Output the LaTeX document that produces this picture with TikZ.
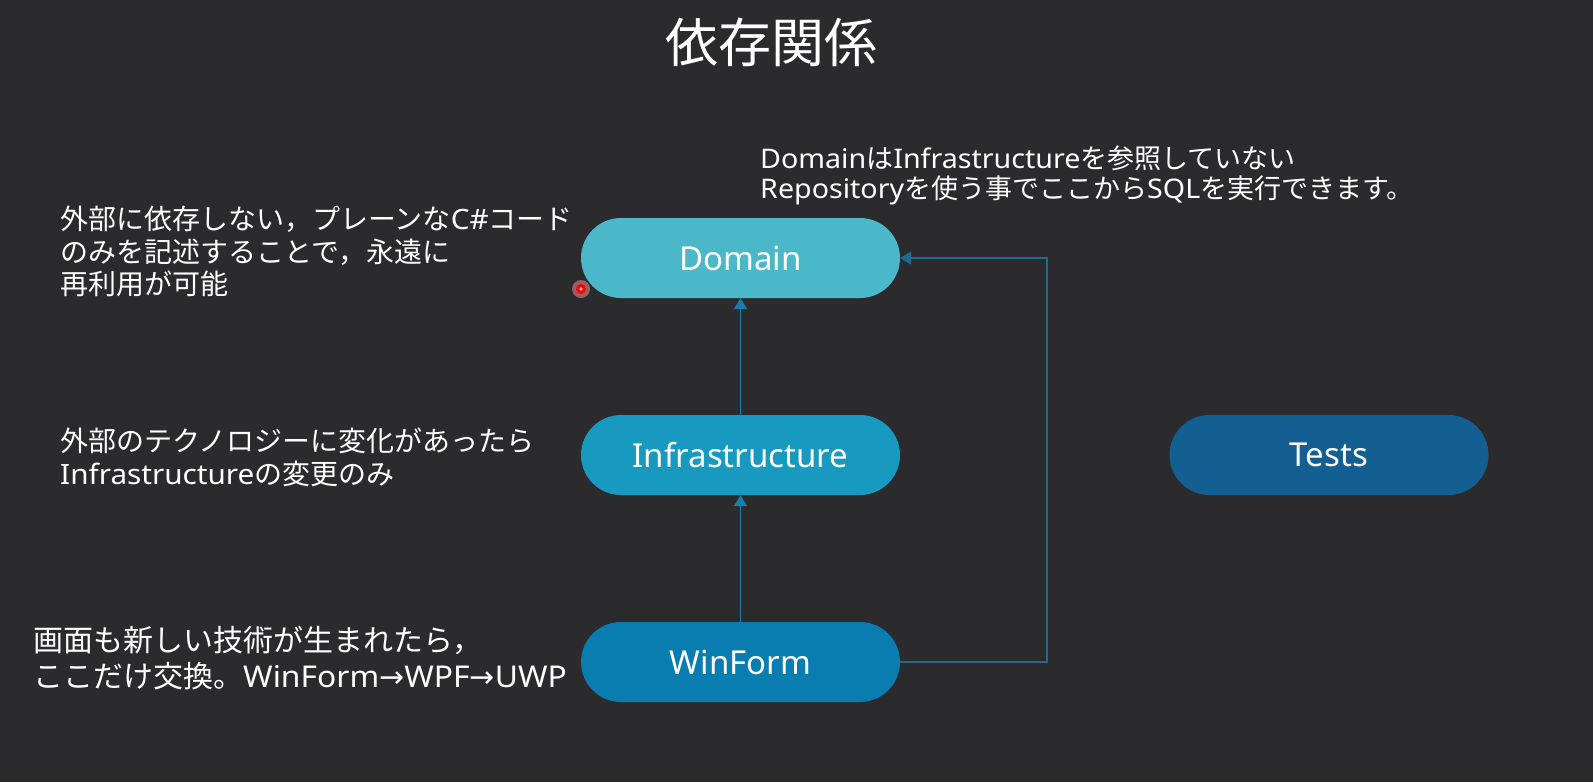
\documentclass[tikz,border=0pt]{standalone}
\usepackage{fontspec}
\setmainfont{Noto Sans}
\newfontfamily\jp{Noto Sans CJK JP}
\newfontfamily\lat[FakeStretch=1.06]{Noto Sans}
\newfontfamily\symf{DejaVu Sans}
\usetikzlibrary{arrows.meta}
\definecolor{bgc}{HTML}{2B2B2D}
\definecolor{domc}{HTML}{4BB8C9}
\definecolor{infc}{HTML}{1799C0}
\definecolor{winc}{HTML}{0A7DB0}
\definecolor{tstc}{HTML}{145F92}
\definecolor{arrc}{HTML}{1B7BAD}
\definecolor{linec}{HTML}{1B6C94}
\tikzset{
  layer/.style={rectangle, rounded corners=40pt, minimum width=319pt, minimum height=80pt, inner sep=0pt, text=white, font=\fontsize{33}{40}\selectfont},
  conn/.style={draw=arrc, line width=1.5pt, -{Triangle[width=13pt,length=11pt]}},
  note/.style={anchor=base west, text=white, inner sep=0pt},
  notefont/.style={font=\jp\fontsize{28}{33}\selectfont},
}
\begin{document}
\begin{tikzpicture}[x=1pt,y=-1pt]
\fill[bgc] (0,0) rectangle (1593,782);
\useasboundingbox (0,0) rectangle (1593,782);

\node[text=white, font=\jp\fontsize{53}{60}\selectfont, anchor=base] (title) at (771,62) {依存関係};

\node[layer, fill=domc] (dom) at (740.5,258) {Domain};
\node[layer, fill=infc] (inf) at (740.5,455) {Infrastructure};
\node[layer, fill=winc] (win) at (740.5,662) {WinForm};
\node[layer, fill=tstc] (tst) at (1329,455) {Tests};

\coordinate (c1) at (1047,662);
\coordinate (c2) at (1047,258);
\draw[conn] (inf.north) -- (dom.south);
\draw[conn] (win.north) -- (inf.south);
\draw[conn, draw=linec] (win.east) -- (c1) -- (c2) -- (dom.east);

\node[note, font=\jp\fontsize{27}{30}\selectfont] (t1a) at (760,168) {{\lat Domain}は{\lat Infrastructure}を参照していない};
\node[note, font=\jp\fontsize{27}{30}\selectfont] (t1b) at (760,198) {{\lat Repository}を使う事でここから{\lat SQL}を実行できます。};

\node[note, notefont] (t2a) at (60,229) {外部に依存しない，プレーンな{\lat C\#}コード};
\node[note, notefont] (t2b) at (60,262) {のみを記述することで，永遠に};
\node[note, notefont] (t2c) at (60,294) {再利用が可能};

\node[note, notefont] (t3a) at (60,451) {外部のテクノロジーに変化があったら};
\node[note, notefont] (t3b) at (60,484) {{\lat Infrastructure}の変更のみ};

\node[note, font=\jp\fontsize{30}{36}\selectfont] (t4a) at (33,651) {画面も新しい技術が生まれたら，};
\node[note, font=\jp\fontsize{30}{36}\selectfont] (t4b) at (33,687) {ここだけ交換。{\lat WinForm{\symf →}WPF{\symf →}UWP}};

% pointer dot
\fill[red!40, opacity=0.5] (581,289) circle (9);
\fill[red] (581,289) circle (5);
\fill[white!70!red] (581,289) circle (1.8);
\end{tikzpicture}
\end{document}
